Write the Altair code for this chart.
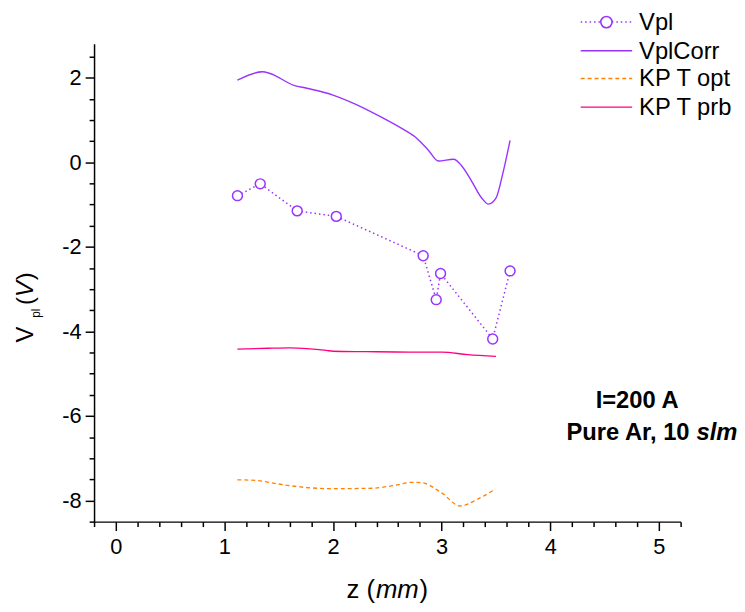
import altair as alt
import pandas as pd

# ---------------- data ----------------
vpl_z = [1.12, 1.33, 1.67, 2.03, 2.83, 2.95, 2.99, 3.47, 3.63]
vpl_v = [-0.79, -0.51, -1.15, -1.28, -2.21, -3.25, -2.63, -4.18, -2.57]

corr_z = [1.12, 1.35, 1.42, 1.64, 1.76, 2.00, 2.21, 2.45, 2.64, 2.77,
          2.88, 2.97, 3.11, 3.18, 3.27, 3.37, 3.43, 3.50, 3.56, 3.63]
corr_v = [1.94, 2.14, 2.10, 1.82, 1.75, 1.59, 1.37, 1.06, 0.79, 0.57,
          0.28, 0.03, 0.07, -0.07, -0.42, -0.85, -0.99, -0.85, -0.30, 0.52]

opt_z = [1.12, 1.30, 1.50, 1.70, 2.00, 2.36, 2.55, 2.73, 2.82, 3.00, 3.17, 3.33, 3.47]
opt_v = [-7.51, -7.53, -7.61, -7.68, -7.72, -7.71, -7.65, -7.57, -7.58, -7.82, -8.13, -7.97, -7.77]

prb_z = [1.12, 1.40, 1.60, 1.94, 2.00, 2.30, 2.70, 3.00, 3.24, 3.50]
prb_v = [-4.42, -4.40, -4.39, -4.45, -4.47, -4.48, -4.49, -4.49, -4.55, -4.59]

series_names = ["Vpl", "VplCorr", "KP T opt", "KP T prb"]
x_ticks = [round(-0.2 + 0.2 * i, 1) for i in range(28)]
y_ticks = [-8.5 + 0.5 * i for i in range(23)]

PURPLE = "#9933FF"
ORANGE = "#FF8000"
PINK = "#FF0080"
FONT = "Liberation Sans"

df_vpl = pd.DataFrame({"z": vpl_z, "v": vpl_v})
df_corr = pd.DataFrame({"z": corr_z, "v": corr_v})
df_opt = pd.DataFrame({"z": opt_z, "v": opt_v})
df_prb = pd.DataFrame({"z": prb_z, "v": prb_v})

xs = alt.Scale(domain=[-0.2, 5.2], nice=False, zero=False)
ys = alt.Scale(domain=[-8.5, 2.8], nice=False, zero=False)

XMAJ = "abs(datum.value - round(datum.value)) < 1e-6"
YMAJ = "abs(datum.value - round(datum.value)) < 1e-6 && round(datum.value) % 2 === 0"

x_axis = alt.Axis(
    title=None, values=x_ticks, tickCount=200, grid=False,
    labelExpr=f"{XMAJ} ? '' + round(datum.value) : ''",
    tickSize={"condition": {"test": XMAJ, "value": 9}, "value": 5},
    tickColor="black", tickWidth=1.5, domainColor="black", domainWidth=1.5,
    labelFont=FONT, labelFontSize=22, labelColor="black", labelPadding=6,
    labelFlush=False, labelOverlap=False,
)
y_axis = alt.Axis(
    title=None, values=y_ticks, tickCount=200, grid=False,
    labelExpr=f"{YMAJ} ? '' + round(datum.value) : ''",
    tickSize={"condition": {"test": YMAJ, "value": 9}, "value": 5},
    tickColor="black", tickWidth=1.5, domainColor="black", domainWidth=1.5,
    labelFont=FONT, labelFontSize=22, labelColor="black", labelPadding=4,
    labelFlush=False, labelOverlap=False,
)

X = alt.X("z:Q", scale=xs, axis=x_axis)
Y = alt.Y("v:Q", scale=ys, axis=y_axis)

corr = alt.Chart(df_corr).mark_line(color=PURPLE, strokeWidth=1.4, interpolate="monotone").encode(x=X, y=Y)
opt = alt.Chart(df_opt).mark_line(color=ORANGE, strokeWidth=1.3, strokeDash=[4, 3], interpolate="monotone").encode(
    x=X, y=Y)
prb = alt.Chart(df_prb).mark_line(color=PINK, strokeWidth=1.4, interpolate="monotone").encode(x=X, y=Y)
vline = alt.Chart(df_vpl).mark_line(color=PURPLE, strokeWidth=1.5, strokeDash=[1.5, 3]).encode(x=X, y=Y)
vpts = alt.Chart(df_vpl).mark_point(shape="circle", size=100, filled=False, color=PURPLE,
                                    fill="white", fillOpacity=1, strokeWidth=1.5, opacity=1).encode(x=X, y=Y)

one = alt.Data(values=[{}])


def txt(s, x, y, **kw):
    return alt.Chart(one).mark_text(text=s, font=FONT, color="black", **kw).encode(
        x=alt.value(x), y=alt.value(y))


# ----- legend (manual) -----
leg_styles = [
    dict(color=PURPLE, strokeDash=[1.5, 3], strokeWidth=1.5),
    dict(color=PURPLE, strokeWidth=1.4),
    dict(color=ORANGE, strokeDash=[4, 3], strokeWidth=1.3),
    dict(color=PINK, strokeWidth=1.4),
]
leg_y = [-22, 7, 35, 64]
legend_layers = []
for name, st, ly in zip(series_names, leg_styles, leg_y):
    legend_layers.append(
        alt.Chart(one).mark_rule(**st).encode(x=alt.value(492), x2=alt.value(544), y=alt.value(ly)))
    legend_layers.append(txt(name, 551, ly + 1, fontSize=24, align="left", baseline="middle"))
legend_layers.append(
    alt.Chart(one).mark_point(shape="circle", size=130, filled=False, color=PURPLE, fill="white",
                              fillOpacity=1, strokeWidth=1.6, opacity=1).encode(
        x=alt.value(518), y=alt.value(-22)))

# ----- annotation -----
annot = [
    txt("I=200 A", 549, 368, fontSize=24, fontWeight="bold", align="center", baseline="alphabetic"),
    txt("Pure Ar, 10", 602, 400, fontSize=24, fontWeight="bold", align="right", baseline="alphabetic"),
    txt("slm", 609, 400, fontSize=24, fontWeight="bold", fontStyle="italic", align="left", baseline="alphabetic"),
]

# ----- axis titles -----
titles = [
    # x title: z (mm)
    txt("z (", 284, 560, fontSize=26, align="right", baseline="alphabetic"),
    txt("mm", 285, 560, fontSize=26, fontStyle="italic", align="left", baseline="alphabetic"),
    txt(")", 329, 560, fontSize=26, align="left", baseline="alphabetic"),
    # y title: V_pl (V)
    txt("V", -62, 302, fontSize=24, angle=270, align="left", baseline="alphabetic"),
    txt("pl", -55, 277, fontSize=12, angle=270, align="left", baseline="alphabetic"),
    txt("(", -62, 264, fontSize=24, angle=270, align="left", baseline="alphabetic"),
    txt("V", -62, 256, fontSize=24, angle=270, fontStyle="italic", align="left", baseline="alphabetic"),
    txt(")", -62, 239, fontSize=24, angle=270, align="left", baseline="alphabetic"),
]

chart = alt.layer(corr, opt, prb, vline, vpts, *legend_layers, *annot, *titles).properties(
    width=593,
    height=483,
    padding={"left": 87, "top": 33, "right": 57, "bottom": 80},
    autosize=alt.AutoSizeParams(type="none"),
    background="white",
).configure_view(stroke=None)

chart.save("out.html", embed_options={"renderer": "svg", "actions": False})
